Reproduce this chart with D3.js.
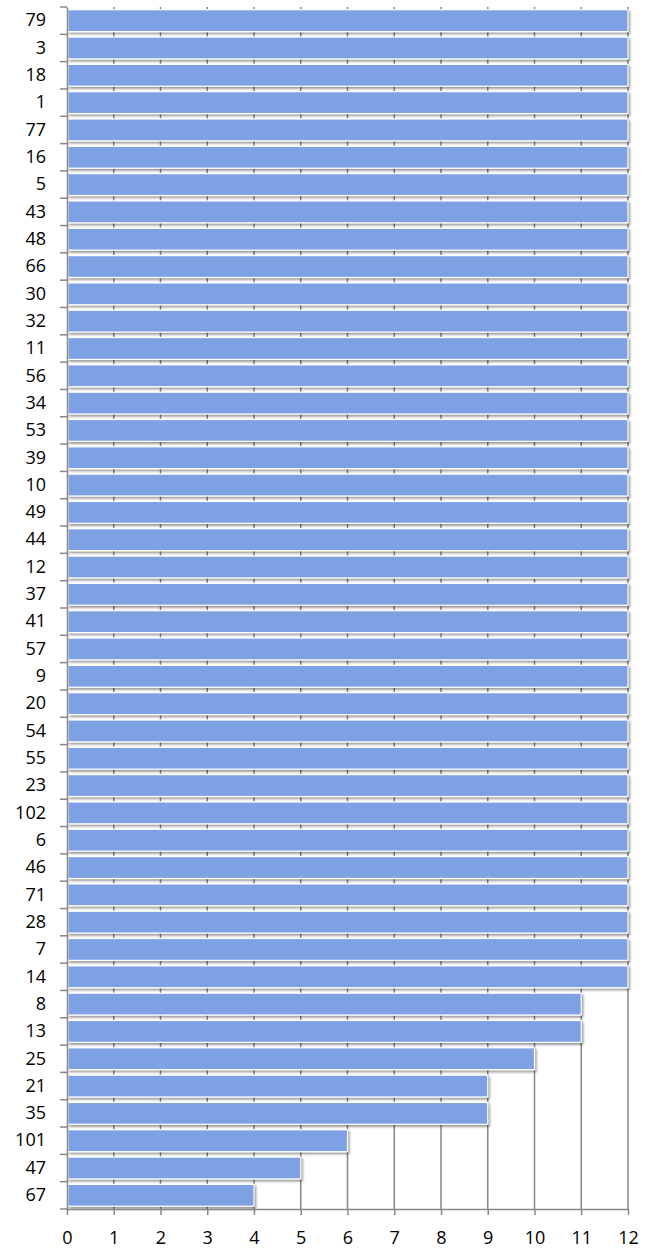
<!DOCTYPE html>
<html>
<head>
<meta charset="utf-8">
<script src="https://cdn.jsdelivr.net/npm/d3@7"></script>
<style>
  body { margin: 0; background: #fff; }
  .axis text { font-family: "Open Sans", "Liberation Sans", sans-serif; font-size: 18px; fill: #000; }
  .axis path, .axis line { stroke: #878787; stroke-width: 1.5px; }
</style>
</head>
<body>
<div id="plot"></div>
<script>
// categories, top to bottom
const categories = ["79", "3", "18", "1", "77", "16", "5", "43", "48", "66", "30", "32", "11", "56",
  "34", "53", "39", "10", "49", "44", "12", "37", "41", "57", "9", "20", "54", "55", "23", "102",
  "6", "46", "71", "28", "7", "14", "8", "13", "25", "21", "35", "101", "47", "67"];
const values = [12, 12, 12, 12, 12, 12, 12, 12, 12, 12, 12, 12, 12, 12,
  12, 12, 12, 12, 12, 12, 12, 12, 12, 12, 12, 12, 12, 12, 12, 12,
  12, 12, 12, 12, 12, 12, 11, 11, 10, 9, 9, 6, 5, 4];
const xTicks = [0, 1, 2, 3, 4, 5, 6, 7, 8, 9, 10, 11, 12];

const data = categories.map((c, i) => ({cat: c, value: values[i]}));

const margin = {top: 7, right: 28, bottom: 39, left: 67};
const totalW = 656, totalH = 1248;
const width = totalW - margin.left - margin.right;
const height = totalH - margin.top - margin.bottom;

const svg = d3.select("#plot")
  .append("svg")
  .attr("width", totalW)
  .attr("height", totalH);

// soft shadow under bars
const defs = svg.append("defs");
const filter = defs.append("filter").attr("id", "shadow")
  .attr("x", "-5%").attr("y", "-30%").attr("width", "115%").attr("height", "170%");
filter.append("feDropShadow")
  .attr("dx", 1.5).attr("dy", 2)
  .attr("stdDeviation", 1.2)
  .attr("flood-color", "#000")
  .attr("flood-opacity", 0.4);

const g = svg.append("g")
  .attr("transform", `translate(${margin.left},${margin.top})`);

const x = d3.scaleLinear().domain([0, 12]).range([0, width]);
const y = d3.scaleBand().domain(categories).range([0, height])
  .paddingInner(0.2).paddingOuter(0.1);

// vertical gridlines
g.append("g")
  .selectAll("line")
  .data(xTicks.slice(1))
  .join("line")
  .attr("x1", d => x(d)).attr("x2", d => x(d))
  .attr("y1", 0).attr("y2", height)
  .attr("stroke", "#878787")
  .attr("stroke-width", 1.5);

// bars
g.append("g")
  .selectAll("rect")
  .data(data)
  .join("rect")
  .attr("x", x(0) + 1)
  .attr("y", d => y(d.cat))
  .attr("width", d => x(d.value) - x(0) - 1)
  .attr("height", y.bandwidth())
  .attr("fill", "#7ea1e4")
  .attr("stroke", "#fff")
  .attr("stroke-width", 1.2)
  .attr("filter", "url(#shadow)");

// x axis
g.append("g")
  .attr("class", "axis")
  .attr("transform", `translate(0,${height})`)
  .call(d3.axisBottom(x).tickValues(xTicks).tickFormat(d3.format("d")).tickSize(6).tickPadding(16).tickSizeOuter(0));

// y axis: labels centred on bands, ticks on band boundaries
const yAxis = g.append("g")
  .attr("class", "axis")
  .call(d3.axisLeft(y).tickSize(0).tickPadding(21).tickSizeOuter(0));

const step = y.step();
const boundaries = categories.map(c => y(c) - step * y.paddingInner() / 2);
boundaries.push(height);
yAxis.append("g")
  .selectAll("line")
  .data(boundaries)
  .join("line")
  .attr("x1", -7).attr("x2", 0)
  .attr("y1", d => d).attr("y2", d => d);
</script>
</body>
</html>
